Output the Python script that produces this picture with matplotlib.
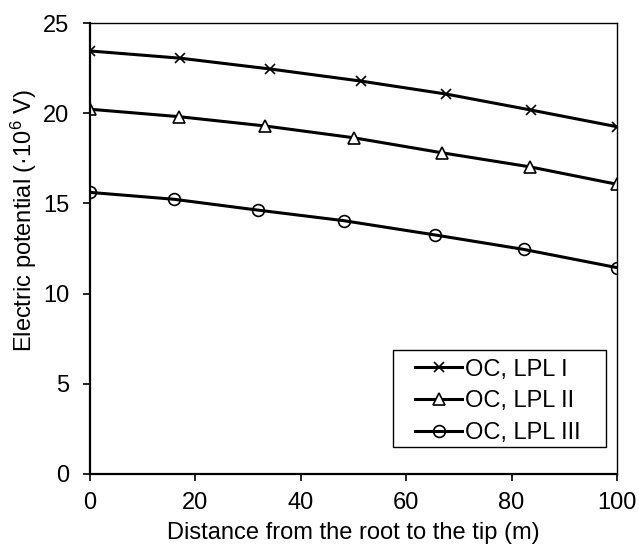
import matplotlib
matplotlib.use('Agg')
from matplotlib import pyplot as plt
from matplotlib.patches import Rectangle

plt.rcParams['font.family'] = ['Liberation Sans', 'DejaVu Sans']
plt.rcParams['mathtext.default'] = 'regular'

# values
x_lpl1 = [0, 17.1, 34.2, 51.4, 67.6, 83.6, 100]
y_lpl1 = [23.45, 23.05, 22.45, 21.78, 21.06, 20.18, 19.25]

x_lpl2 = [0, 16.8, 33.3, 50.0, 66.7, 83.4, 100]
y_lpl2 = [20.22, 19.81, 19.29, 18.64, 17.81, 17.03, 16.06]

x_lpl3 = [0, 15.9, 31.8, 48.2, 65.5, 82.3, 100]
y_lpl3 = [15.61, 15.23, 14.63, 14.04, 13.25, 12.45, 11.44]

labels = ['OC, LPL I', 'OC, LPL II', 'OC, LPL III']

fs = 17

fig = plt.figure(figsize=(6.39, 5.48), dpi=100)
ax = fig.add_axes([90/639, 1-474/548, 527/639, 451/548])

lw = 2.2
ax.plot(x_lpl1, y_lpl1, color='black', lw=lw, marker='x', ms=7, mew=1.2, label=labels[0])
ax.plot(x_lpl2, y_lpl2, color='black', lw=lw, marker='^', ms=8, mew=1.2, mfc='white', label=labels[1])
ax.plot(x_lpl3, y_lpl3, color='black', lw=lw, marker='o', ms=8.5, mew=1.2, mfc='none', label=labels[2])

ax.set_xlim(0, 100)
ax.set_ylim(0, 25)
ax.set_xticks([0, 20, 40, 60, 80, 100])
ax.set_yticks([0, 5, 10, 15, 20, 25])
ax.tick_params(direction='out', length=5, width=1.2, labelsize=fs, colors='black')
ax.tick_params(axis='y', pad=10)
ax.tick_params(axis='x', pad=8)

ax.spines['left'].set_linewidth(1.6)
ax.spines['bottom'].set_linewidth(1.6)
ax.spines['top'].set_linewidth(1.0)
ax.spines['right'].set_linewidth(1.0)

ax.set_xlabel('Distance from the root to the tip (m)', fontsize=fs, labelpad=6)
ax.set_ylabel('Electric potential (·10$^{6}$ V)', fontsize=fs)
ax.yaxis.set_label_coords(-0.097, 0.561)

# legend frame drawn separately so the padding matches
box = Rectangle((0.5744, 0.0599), 0.4042, 0.215, transform=ax.transAxes,
                facecolor='white', edgecolor='black', lw=1.0, zorder=4)
ax.add_patch(box)
leg = ax.legend(loc='upper left', bbox_to_anchor=(0.6167, 0.256), borderaxespad=0,
                fontsize=fs, frameon=False, borderpad=0,
                handlelength=2.0, handletextpad=0.13, labelspacing=0.42)
leg.set_zorder(5)

plt.savefig('out.png', dpi=100)
